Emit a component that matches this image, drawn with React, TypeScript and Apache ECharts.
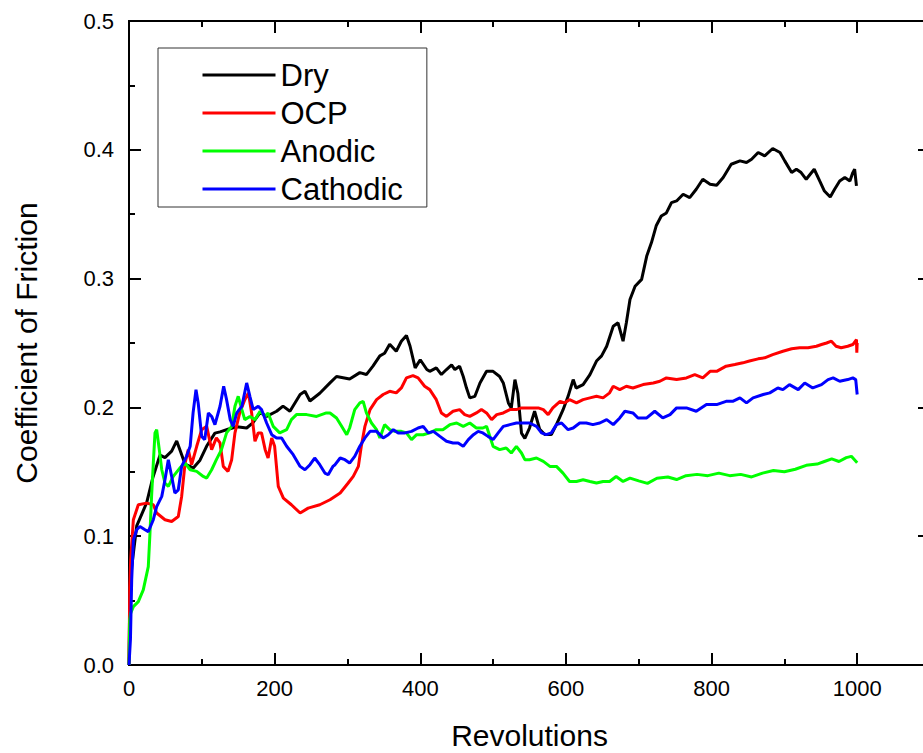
import React, { useEffect, useRef } from "react";
import * as echarts from "echarts";

// Revolutions vs coefficient of friction
const dry: number[][] = [
  [0, 0], [1, 0.05], [3.7, 0.076], [10.6, 0.108], [24.3, 0.126], [33, 0.146], [42.6, 0.163], [49.4, 0.161],
  [58.6, 0.166], [65.5, 0.174], [70, 0.167], [76.9, 0.156], [88.3, 0.153], [97.5, 0.159], [106.7, 0.17],
  [118, 0.18], [125, 0.181], [136, 0.183], [148, 0.185], [161.6, 0.184], [170, 0.188], [180, 0.196],
  [189, 0.193], [202.7, 0.197], [211.5, 0.201], [221, 0.197], [235, 0.21], [241.6, 0.2125], [248.5, 0.205],
  [262, 0.211], [276, 0.219], [285, 0.224], [294, 0.223], [303, 0.222], [317, 0.227], [326, 0.2255],
  [335, 0.232], [344.5, 0.24], [351, 0.242], [358, 0.249], [367, 0.2436], [374, 0.2514], [381, 0.2558],
  [386, 0.2475], [393, 0.2307], [400, 0.237], [409, 0.2294], [413, 0.228], [422, 0.2307], [429, 0.2255],
  [436, 0.2294], [443, 0.233], [447.5, 0.2294], [454, 0.232], [459, 0.224], [463.5, 0.215], [468, 0.2074],
  [475, 0.2086], [482, 0.219], [491, 0.228], [500, 0.228], [509, 0.224], [514, 0.219], [521, 0.2035],
  [525, 0.1996], [530, 0.2216], [534, 0.211], [539, 0.18], [543.6, 0.176], [550, 0.184], [557, 0.197],
  [564, 0.183], [571, 0.179], [580, 0.179], [587, 0.1866], [596, 0.198], [603, 0.2086], [610, 0.2216],
  [614, 0.215], [623.6, 0.2177], [633, 0.2255], [642, 0.236], [649, 0.24], [656, 0.2475], [665, 0.263],
  [671.6, 0.2657], [678.5, 0.2514], [683, 0.2657], [688, 0.2838], [695, 0.294], [704, 0.2994], [711, 0.3175],
  [717.5, 0.328], [724, 0.341], [731, 0.3486], [738, 0.351], [745, 0.359], [752, 0.3603], [761, 0.3655],
  [770, 0.3629], [779, 0.3694], [788, 0.3771], [798, 0.3733], [807, 0.3725], [816, 0.3785], [827, 0.3888],
  [839, 0.3914], [848, 0.3901], [855, 0.3927], [864, 0.3979], [873, 0.3953], [884, 0.401], [894, 0.3979],
  [900.5, 0.3914], [910, 0.3823], [916.5, 0.3849], [923, 0.3823], [930, 0.3771], [941, 0.3849],
  [948.5, 0.3758], [955, 0.368], [963, 0.3634], [969, 0.3694], [976, 0.3758], [983, 0.3785], [990, 0.3758],
  [994, 0.3823], [996.5, 0.3849], [999, 0.372],
];

const ocp: number[][] = [
  [0, 0], [1, 0.06], [2.3, 0.0817], [6, 0.1128], [12.8, 0.1244], [24.3, 0.1257], [33.4, 0.1244], [38, 0.118],
  [49.4, 0.1128], [58.6, 0.1114], [67.7, 0.1153], [72.3, 0.1309], [77, 0.1568], [81.4, 0.1672], [86, 0.1555],
  [93, 0.1698], [99.8, 0.1827], [106.7, 0.1853], [113.5, 0.1672], [120, 0.1763], [125, 0.1724],
  [129.5, 0.1542], [136, 0.1503], [141, 0.1594], [145.5, 0.1802], [152, 0.1957], [159, 0.206], [164, 0.2113],
  [168.4, 0.1957], [173, 0.1737], [177.5, 0.1802], [182, 0.1802], [187, 0.1672], [191, 0.1607],
  [196, 0.1763], [200, 0.1698], [205, 0.1387], [212, 0.1296], [223, 0.1244], [235, 0.118], [246, 0.1218],
  [262, 0.1244], [276, 0.1283], [290, 0.1335], [301, 0.1413], [308, 0.1464], [315, 0.1542], [319, 0.1698],
  [324, 0.1853], [331, 0.1983], [340, 0.206], [349, 0.21], [358, 0.2125], [367, 0.2113], [374, 0.2151],
  [381, 0.2229], [390, 0.2247], [397, 0.2229], [406, 0.2164], [413, 0.2138], [422, 0.206], [429, 0.1957],
  [436, 0.193], [445, 0.197], [454, 0.1983], [461, 0.1944], [468, 0.193], [477, 0.1957], [484, 0.1983],
  [491, 0.1957], [498, 0.1905], [505, 0.1944], [514, 0.1957], [523, 0.1983], [532, 0.1983], [539, 0.1996],
  [550, 0.1996], [562, 0.1996], [569, 0.1983], [575.6, 0.1944], [582, 0.1996], [592, 0.2047], [598, 0.2035],
  [605, 0.206], [614.5, 0.2035], [623.6, 0.206], [633, 0.2074], [642, 0.2086], [651, 0.2074], [660, 0.2113],
  [665, 0.2164], [674, 0.2138], [683, 0.2164], [692, 0.2151], [706, 0.2177], [720, 0.219], [729, 0.2203],
  [738, 0.2229], [752, 0.2216], [765.5, 0.2229], [777, 0.2255], [788, 0.2229], [798, 0.228], [807, 0.228],
  [820, 0.232], [832, 0.2333], [843, 0.2346], [852, 0.236], [864, 0.2377], [873, 0.2385], [884, 0.241],
  [898, 0.2436], [910, 0.2455], [921, 0.2463], [932.5, 0.2463], [944, 0.2475], [951, 0.2488], [958, 0.25],
  [964.6, 0.2514], [971, 0.2475], [978, 0.2463], [987, 0.2475], [994, 0.2488], [999, 0.2527],
  [999.5, 0.2424], [1000, 0.25],
];

const anodic: number[][] = [
  [0, 0], [1, 0.035], [2.3, 0.0402], [6, 0.0453], [12.8, 0.0492], [19.6, 0.0583], [26.5, 0.0764],
  [28.8, 0.1024], [31, 0.1309], [33.4, 0.1568], [35.7, 0.1802], [38, 0.1827], [41.6, 0.1672], [45, 0.1516],
  [49.4, 0.1413], [54, 0.1387], [60.8, 0.1464], [70, 0.153], [77, 0.1568], [84, 0.1516], [93, 0.1503],
  [102, 0.1464], [106.7, 0.1451], [113.5, 0.1516], [120, 0.1594], [127, 0.1672], [134, 0.1802],
  [141, 0.1853], [145.5, 0.2009], [150, 0.2086], [155, 0.1983], [159, 0.1905], [166, 0.193], [173, 0.1905],
  [180, 0.197], [187, 0.193], [191, 0.1957], [198, 0.1853], [207, 0.1802], [216.5, 0.1827], [223, 0.1905],
  [230, 0.1944], [244, 0.1944], [257.6, 0.193], [271, 0.1957], [276, 0.1957], [285, 0.1918], [292, 0.1853],
  [299, 0.1788], [303, 0.184], [310, 0.1983], [317, 0.2035], [321.6, 0.2047], [326, 0.1957], [333, 0.1879],
  [340, 0.1827], [344.5, 0.1763], [351, 0.1866], [358, 0.1827], [365, 0.1814], [374, 0.1814], [381, 0.1802],
  [388, 0.175], [395, 0.1788], [404, 0.1788], [413, 0.1802], [422, 0.1827], [431, 0.1827], [440.6, 0.1866],
  [450, 0.1879], [459, 0.1853], [468, 0.1879], [477, 0.184], [486, 0.184], [491, 0.1853], [500, 0.1698],
  [509, 0.1672], [518, 0.1685], [525, 0.1646], [532, 0.1698], [539, 0.1646], [543.6, 0.1594], [550, 0.1594],
  [559.6, 0.1607], [569, 0.1581], [578, 0.1542], [587, 0.1542], [596, 0.149], [605, 0.1425], [614.5, 0.1425],
  [623.6, 0.1438], [633, 0.1425], [642, 0.1413], [651, 0.1425], [660, 0.1425], [669, 0.1464],
  [678.5, 0.1425], [688, 0.1451], [700, 0.143], [712, 0.141], [725, 0.145], [740, 0.146], [752, 0.144],
  [765, 0.147], [780, 0.148], [795, 0.147], [810, 0.149], [825, 0.147], [840, 0.148], [855, 0.146],
  [870, 0.149], [885, 0.151], [900, 0.15], [915, 0.152], [930, 0.155], [945, 0.156], [955, 0.158],
  [965, 0.16], [975, 0.158], [985, 0.161], [992, 0.162], [1000, 0.157],
];

const cathodic: number[][] = [
  [0, 0], [2, 0.02], [3.7, 0.066], [6, 0.097], [10.6, 0.105], [15, 0.1075], [22, 0.105], [26.5, 0.1036],
  [33.4, 0.1128], [38, 0.123], [45, 0.1309], [49.4, 0.1438], [54, 0.1594], [58.6, 0.1464], [63, 0.1335],
  [67.7, 0.136], [72.3, 0.1542], [79, 0.162], [84, 0.1698], [88, 0.1957], [92, 0.2138], [95, 0.2035],
  [99.8, 0.1775], [104, 0.175], [109, 0.1957], [113.5, 0.193], [118, 0.1866], [125, 0.2009], [130, 0.2164],
  [134, 0.206], [139, 0.1905], [143, 0.1853], [148, 0.1957], [155, 0.2009], [161.6, 0.219], [166, 0.2086],
  [170.6, 0.1983], [177.5, 0.2009], [182, 0.1983], [189, 0.1879], [196, 0.1788], [202.7, 0.1763],
  [209.6, 0.1763], [216.5, 0.1698], [225.5, 0.1633], [235, 0.1542], [241.6, 0.1516], [248.5, 0.1555],
  [255, 0.1607], [262, 0.1555], [269, 0.149], [273.5, 0.1477], [280, 0.1542], [283, 0.1555], [290, 0.1607],
  [296.5, 0.1594], [303, 0.1568], [310, 0.162], [317, 0.1698], [324, 0.1763], [331, 0.1814], [340, 0.1814],
  [349, 0.1763], [356, 0.1788], [363, 0.1827], [369.7, 0.1802], [379, 0.1802], [388, 0.1814], [397, 0.184],
  [404, 0.1853], [411, 0.1802], [418, 0.1814], [427, 0.1775], [436, 0.1737], [445, 0.1724], [452, 0.1724],
  [459, 0.1698], [466, 0.175], [473, 0.1788], [479.5, 0.1814], [486, 0.1802], [493, 0.1775], [500, 0.175],
  [507, 0.1802], [514, 0.1853], [523, 0.1866], [532, 0.1879], [541, 0.1879], [550, 0.1879], [559.6, 0.1853],
  [566.5, 0.1802], [573, 0.1788], [580, 0.1802], [587, 0.1866], [594, 0.1879], [603, 0.1827], [610, 0.184],
  [619, 0.1879], [628, 0.1879], [637, 0.1866], [646.5, 0.1879], [656, 0.1905], [665, 0.1866], [674, 0.1918],
  [681, 0.197], [692, 0.1957], [699, 0.1918], [711, 0.1918], [722, 0.197], [733, 0.1918], [743, 0.1944],
  [752, 0.1996], [765.5, 0.1996], [779, 0.197], [793, 0.2022], [807, 0.2022], [820, 0.2047], [829, 0.2047],
  [839, 0.2074], [848, 0.2035], [857, 0.2074], [871, 0.21], [880, 0.2113], [891, 0.2151], [898, 0.2138],
  [907, 0.2177], [919, 0.2138], [928, 0.219], [939, 0.2151], [951, 0.2177], [960, 0.2216], [967, 0.2229],
  [976, 0.2203], [987, 0.2216], [994, 0.2229], [998, 0.2216], [1000, 0.21],
];

const seriesNames = ["Dry", "OCP", "Anodic", "Cathodic"];
const seriesColors = ["#000000", "#ff0000", "#00ff00", "#0000ff"];
const seriesData = [dry, ocp, anodic, cathodic];

const xMin = 0;
const xMax = 1100;
const xLabelMax = 1000;
const yMin = 0;
const yMax = 0.5;

const FONT = "'Liberation Sans', Arial, Helvetica, sans-serif";

export default function App() {
  const ref = useRef<HTMLDivElement>(null);

  useEffect(() => {
    if (!ref.current) return;
    const chart = echarts.init(ref.current, undefined, { renderer: "svg" });

    const line = { show: true, onZero: false, lineStyle: { color: "#000", width: 2 } };
    const majorTick = { show: true, inside: true, length: 12, lineStyle: { color: "#000", width: 2 } };
    const minorTickAsMain = { show: true, inside: true, length: 6, lineStyle: { color: "#000", width: 2 } };

    const xAxisBase = (position: string, interval: number, tick: any, withLabel: boolean, withName: boolean) => ({
      type: "value",
      position,
      min: xMin,
      max: xMax,
      interval,
      axisLine: line,
      axisTick: tick,
      splitLine: { show: false },
      axisLabel: withLabel
        ? {
            show: true,
            fontSize: 22,
            color: "#000",
            fontFamily: FONT,
            margin: 12,
            formatter: (v: number) => (v <= xLabelMax ? String(v) : ""),
          }
        : { show: false },
      name: withName ? "Revolutions" : "",
      nameLocation: "middle",
      nameGap: 59,
      nameTextStyle: { fontSize: 30, lineHeight: 22, color: "#000", fontFamily: FONT },
    });

    const yAxisBase = (position: string, withLabel: boolean) => ({
      type: "value",
      position,
      min: yMin,
      max: yMax,
      interval: 0.1,
      axisLine: line,
      axisTick: majorTick,
      minorTick: { show: true, splitNumber: 2, length: 6, lineStyle: { color: "#000", width: 2 } },
      splitLine: { show: false },
      minorSplitLine: { show: false },
      axisLabel: withLabel
        ? {
            show: true,
            fontSize: 22,
            color: "#000",
            fontFamily: FONT,
            margin: 15,
            formatter: (v: number) => v.toFixed(1),
          }
        : { show: false },
      name: withLabel ? "Coefficient of Friction" : "",
      nameLocation: "middle",
      nameRotate: 90,
      nameGap: 88,
      nameTextStyle: { fontSize: 30, color: "#000", fontFamily: FONT },
    });

    chart.setOption({
      animation: false,
      backgroundColor: "#fff",
      textStyle: { fontFamily: FONT },
      grid: { left: 129, top: 21, right: 10, bottom: 88, containLabel: false, outerBoundsMode: "none" },
      legend: {
        show: true,
        orient: "vertical",
        left: 158,
        top: 48,
        itemWidth: 73,
        itemHeight: 31,
        itemGap: 7,
        padding: [11.5, 24, 2.5, 43],
        borderColor: "#333",
        borderWidth: 1,
        selectedMode: false,
        itemStyle: { opacity: 0, borderWidth: 0 },
        lineStyle: { width: 3 },
        textStyle: { fontSize: 31, color: "#000", lineHeight: 31, fontFamily: FONT },
        data: seriesNames,
      },
      xAxis: [
        xAxisBase("bottom", 200, majorTick, true, true),
        xAxisBase("bottom", 100, minorTickAsMain, false, false),
        xAxisBase("top", 200, majorTick, false, false),
        xAxisBase("top", 100, minorTickAsMain, false, false),
      ],
      yAxis: [yAxisBase("left", true), yAxisBase("right", false)],
      series: seriesNames.map((name, i) => ({
        name,
        type: "line",
        xAxisIndex: 0,
        yAxisIndex: 0,
        data: seriesData[i],
        symbol: "none",
        showSymbol: false,
        smooth: false,
        color: seriesColors[i],
        lineStyle: { color: seriesColors[i], width: 3 },
      })),
    });

    return () => chart.dispose();
  }, []);

  return (
    <div style={{ position: "absolute", left: 0, top: 0, width: 923, height: 753, overflow: "hidden", background: "#fff" }}>
      <div ref={ref} style={{ position: "absolute", left: 0, top: 0, width: 940, height: 753 }} />
    </div>
  );
}
